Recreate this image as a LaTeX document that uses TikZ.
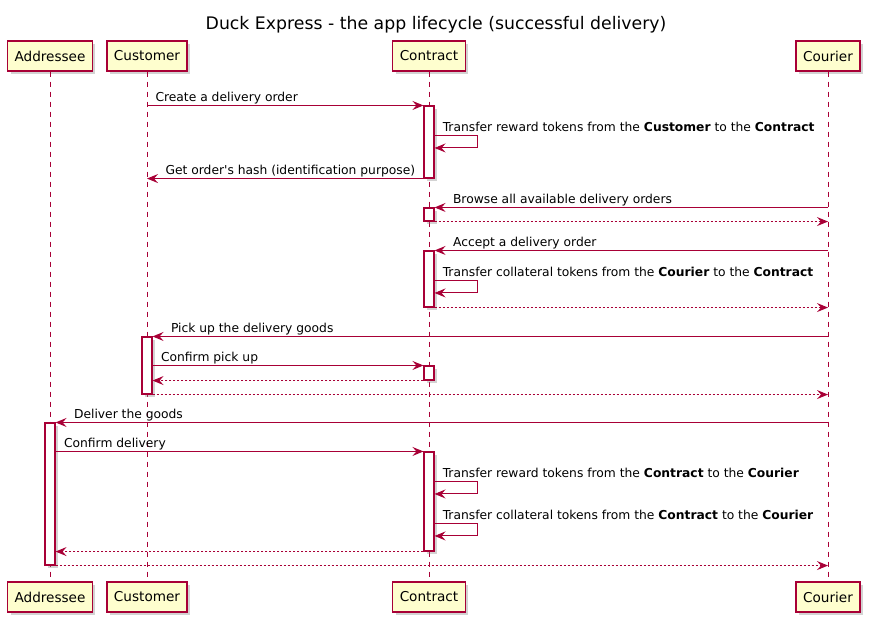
\documentclass[tikz,border=0pt]{standalone}
\usepackage{fontspec}
\setmainfont{DejaVu Sans}
\usetikzlibrary{arrows.meta,shadows,positioning}
\definecolor{umlred}{HTML}{A80036}
\definecolor{umlyellow}{HTML}{FEFECE}
\tikzset{
  actor/.style={draw=umlred, line width=1.3pt, fill=umlyellow, minimum height=30pt,
    inner xsep=7pt, font=\fontsize{13.6}{15}\selectfont,
    drop shadow={shadow xshift=3pt, shadow yshift=-3pt, opacity=0.35}},
  lifeline/.style={umlred, line width=0.9pt, dash pattern=on 5pt off 5pt},
  activ/.style={draw=umlred, fill=white, line width=1.1pt, minimum width=10pt, inner sep=0pt,
    drop shadow={shadow xshift=2.5pt, shadow yshift=-2.5pt, opacity=0.35}},
  msg/.style={umlred, line width=1pt, -{Stealth[length=11pt, width=9pt, inset=4pt]}},
  reply/.style={msg, dash pattern=on 2pt off 2pt},
  lbl/.style={text=black, font=\fontsize{12.3}{14}\selectfont, inner sep=0pt, anchor=base west}
}
\begin{document}
\begin{tikzpicture}[x=1pt, y=-1pt]
  \useasboundingbox (0,0) rectangle (872,625);
  \node[font=\fontsize{17.3}{20}\selectfont, anchor=base] (title) at (436,29)
    {Duck Express - the app lifecycle (successful delivery)};
  % participants, top and bottom
  \foreach \name/\txt/\x in {add/Addressee/50, cus/Customer/147, con/Contract/429, cou/Courier/828}
  {
    \node[actor] (\name-top) at (\x,56) {\txt};
    \node[actor] (\name-bot) at (\x,597) {\txt};
    \draw[lifeline] (\name-top) -- (\name-bot);
  };
  % activation bars
  \foreach \n/\x/\ya/\yb in {act1/429/106/178, act2/429/208/221, act3/429/251/307,
      act4/147/337/394, act5/429/366/380, act6/50/423/565, act7/429/452/551}
  {
    \node[activ, minimum height={\yb-\ya}] (\n) at (\x,{(\ya+\yb)/2}) {};
  };
  % order created by the customer
  \draw[msg] (cus-top |- act1.north) -- node[lbl, pos=0, xshift=8pt, yshift=4pt]
    {Create a delivery order} (act1.north west);
  \draw[msg] ([yshift=-30pt]act1.north east) -- ++(43,0) -- ++(0,12.5)
    -- ([yshift=-42.5pt]act1.north east);
  \node[lbl] (t1) at ([xshift=8pt, yshift=-26pt]act1.north east)
    {Transfer reward tokens from the \textbf{Customer} to the \textbf{Contract}};
  \draw[msg] (act1.south west) -- node[lbl, pos=1, xshift=18pt, yshift=4pt]
    {Get order\textquotesingle s hash (identification purpose)} (cus-top |- act1.south);
  % courier looks for orders
  \draw[msg] (cou-top |- act2.north) -- node[lbl, pos=1, xshift=18pt, yshift=4pt]
    {Browse all available delivery orders} (act2.north east);
  \draw[reply] (act2.south east) -- (cou-top |- act2.south);
  \draw[msg] (cou-top |- act3.north) -- node[lbl, pos=1, xshift=18pt, yshift=4pt]
    {Accept a delivery order} (act3.north east);
  \draw[msg] ([yshift=-30pt]act3.north east) -- ++(43,0) -- ++(0,12.5)
    -- ([yshift=-42.5pt]act3.north east);
  \node[lbl] (t2) at ([xshift=8pt, yshift=-26pt]act3.north east)
    {Transfer collateral tokens from the \textbf{Courier} to the \textbf{Contract}};
  \draw[reply] (act3.south east) -- (cou-top |- act3.south);
  % pick up
  \draw[msg] (cou-top |- act4.north) -- node[lbl, pos=1, xshift=18pt, yshift=4pt]
    {Pick up the delivery goods} (act4.north east);
  \draw[msg] (act4.east |- act5.north) -- node[lbl, pos=0, xshift=8pt, yshift=4pt]
    {Confirm pick up} (act5.north west);
  \draw[reply] (act5.south west) -- (act4.east |- act5.south);
  \draw[reply] (act4.south east) -- (cou-top |- act4.south);
  % delivery
  \draw[msg] (cou-top |- act6.north) -- node[lbl, pos=1, xshift=18pt, yshift=4pt]
    {Deliver the goods} (act6.north east);
  \draw[msg] (act6.east |- act7.north) -- node[lbl, pos=0, xshift=8pt, yshift=4pt]
    {Confirm delivery} (act7.north west);
  \draw[msg] ([yshift=-30pt]act7.north east) -- ++(43,0) -- ++(0,12.5)
    -- ([yshift=-42.5pt]act7.north east);
  \node[lbl] (t3) at ([xshift=8pt, yshift=-26pt]act7.north east)
    {Transfer reward tokens from the \textbf{Contract} to the \textbf{Courier}};
  \draw[msg] ([yshift=-72pt]act7.north east) -- ++(43,0) -- ++(0,12.5)
    -- ([yshift=-84.5pt]act7.north east);
  \node[lbl] (t4) at ([xshift=8pt, yshift=-68pt]act7.north east)
    {Transfer collateral tokens from the \textbf{Contract} to the \textbf{Courier}};
  \draw[reply] (act7.south west) -- (act6.east |- act7.south);
  \draw[reply] (act6.south east) -- (cou-top |- act6.south);
\end{tikzpicture}
\end{document}
